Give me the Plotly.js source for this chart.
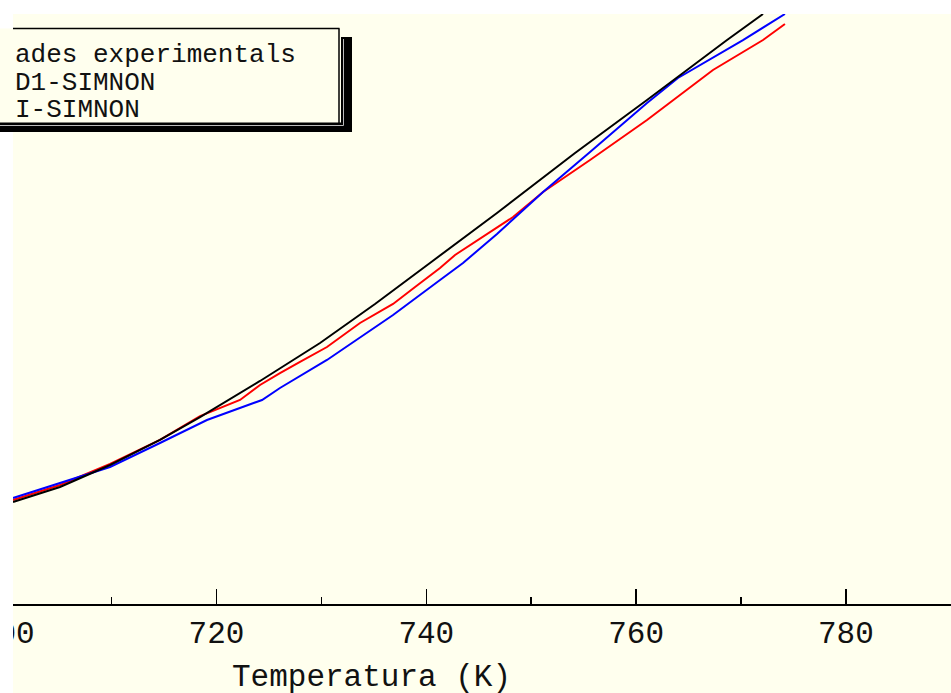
<!DOCTYPE html>
<html>
<head>
<meta charset="utf-8">
<script src="https://cdn.plot.ly/plotly-3.0.1.min.js"></script>
<style>
  html, body { margin: 0; padding: 0; background: #ffffff; }
  #chart { width: 951px; height: 693px; }
</style>
</head>
<body>
<div id="chart"></div>
<script>
// Temperature (K) for each series
const tempBlack = [700.60, 705.08, 709.85, 714.61, 718.43, 724.15, 729.87, 735.11, 740.35, 746.74, 754.18, 761.04, 768.67, 772.10];
const valBlack  = [17.29, 19.83, 23.56, 27.80, 31.69, 37.80, 44.24, 50.85, 57.80, 66.27, 76.44, 85.42, 95.59, 100.0];

const tempBlue = [700.60, 705.08, 709.85, 714.61, 719.09, 724.34, 726.05, 730.53, 736.83, 741.31, 743.50, 746.74, 751.13, 755.61, 757.80, 761.04, 763.99, 770.19, 774.19];
const valBlue  = [17.97, 20.51, 23.22, 27.29, 31.19, 34.58, 36.61, 41.36, 48.98, 54.92, 57.80, 62.71, 69.83, 76.61, 80.00, 84.92, 89.15, 95.59, 100.0];

const tempRed = [700.60, 705.08, 709.85, 714.61, 718.43, 722.24, 724.15, 726.05, 727.96, 730.53, 733.68, 736.83, 738.93, 741.31, 742.74, 745.12, 748.27, 751.13, 755.61, 761.04, 767.33, 772.10, 774.19];
const valRed  = [17.63, 20.17, 23.73, 27.80, 31.86, 34.58, 37.12, 39.15, 41.02, 43.56, 47.63, 50.85, 53.73, 56.95, 59.15, 61.86, 65.59, 69.83, 75.25, 82.03, 90.51, 95.59, 98.31];

// Axis ticks
const majorTicks = [700, 720, 740, 760, 780];
const majorLabels = ['700', '720', '740', '760', '780'];
const minorTicks = [710, 730, 750, 770, 790];

// Legend entries (as drawn in the boxed key)
const legendLines = ['ades experimentals', 'D1-SIMNON', 'I-SIMNON'];

const W = 951, H = 693;
const M = { l: 0, r: 0, t: 14, b: 89 };
const plotH = H - M.t - M.b;
// pixel -> paper helpers for decorations
const px = v => v / W;
const py = v => (H - M.b - v) / plotH;

const BG = '#FFFFEE';
const FONT = '"Courier New", "Liberation Mono", monospace';

const traces = [
  { x: tempRed, y: valRed, mode: 'lines', line: { color: '#FF0000', width: 2 }, showlegend: false },
  { x: tempBlue, y: valBlue, mode: 'lines', line: { color: '#0000FF', width: 2 }, showlegend: false },
  { x: tempBlack, y: valBlack, mode: 'lines', line: { color: '#000000', width: 2 }, showlegend: false }
];

const shapes = [
  // blank strips around the drawing
  { type: 'rect', xref: 'paper', yref: 'paper', layer: 'above', x0: 0, x1: px(13), y0: py(H + 2), y1: py(-2), fillcolor: '#FFFFFF', line: { width: 0 } },
  { type: 'rect', xref: 'paper', yref: 'paper', layer: 'above', x0: 0, x1: 1, y0: py(14), y1: py(-2), fillcolor: '#FFFFFF', line: { width: 0 } },
  // key box
  { type: 'rect', xref: 'paper', yref: 'paper', layer: 'above', x0: 0, x1: px(339), y0: py(123), y1: py(28.5), fillcolor: BG, line: { width: 0 } },
  { type: 'line', xref: 'paper', yref: 'paper', layer: 'above', x0: px(13), x1: px(339.5), y0: py(28.5), y1: py(28.5), line: { color: '#000', width: 1.5 } },
  { type: 'line', xref: 'paper', yref: 'paper', layer: 'above', x0: px(339), x1: px(339), y0: py(28.5), y1: py(123), line: { color: '#000', width: 1.5 } },
  // key shadow
  { type: 'rect', xref: 'paper', yref: 'paper', layer: 'above', x0: px(341), x1: px(352), y0: py(132), y1: py(37), fillcolor: '#000', line: { width: 0 } },
  { type: 'rect', xref: 'paper', yref: 'paper', layer: 'above', x0: 0, x1: px(352), y0: py(132), y1: py(122.5), fillcolor: '#000', line: { width: 0 } },
  { type: 'line', xref: 'paper', yref: 'paper', layer: 'above', x0: px(343.5), x1: px(343.5), y0: py(39), y1: py(125.5), line: { color: '#BBBBBB', width: 1 } },
  { type: 'line', xref: 'paper', yref: 'paper', layer: 'above', x0: 0, x1: px(343.5), y0: py(125.5), y1: py(125.5), line: { color: '#BBBBBB', width: 1 } }
];

const legendY = [55, 83, 110];
const annotations = legendLines.map((t, i) => ({
  text: t, xref: 'paper', yref: 'paper', x: px(13), y: py(legendY[i]),
  xanchor: 'left', yanchor: 'middle', showarrow: false,
  font: { family: FONT, size: 26, color: '#111' }
}));
annotations.push({
  text: 'Temperatura (K)', xref: 'paper', yref: 'paper', x: px(371), y: py(677),
  xanchor: 'center', yanchor: 'middle', showarrow: false,
  font: { family: FONT, size: 31, color: '#111' }
});

const layout = {
  width: W, height: H,
  margin: M,
  paper_bgcolor: BG,
  plot_bgcolor: BG,
  showlegend: false,
  xaxis: {
    range: [699.36, 790.02],
    tickmode: 'array', tickvals: majorTicks, ticktext: majorLabels,
    ticks: 'inside', ticklen: 15, tickwidth: 1.5, tickcolor: '#000',
    ticklabeloverflow: 'allow',
    minor: { tickmode: 'array', tickvals: minorTicks, ticks: 'inside', ticklen: 7, tickwidth: 1.5, tickcolor: '#000', showgrid: false },
    showline: true, linecolor: '#000', linewidth: 2,
    showgrid: false, zeroline: false,
    tickfont: { family: FONT, size: 31, color: '#111' }
  },
  yaxis: { visible: false, range: [0, 100], fixedrange: true },
  shapes: shapes,
  annotations: annotations
};

Plotly.newPlot('chart', traces, layout, { staticPlot: true, displayModeBar: false });
</script>
</body>
</html>
